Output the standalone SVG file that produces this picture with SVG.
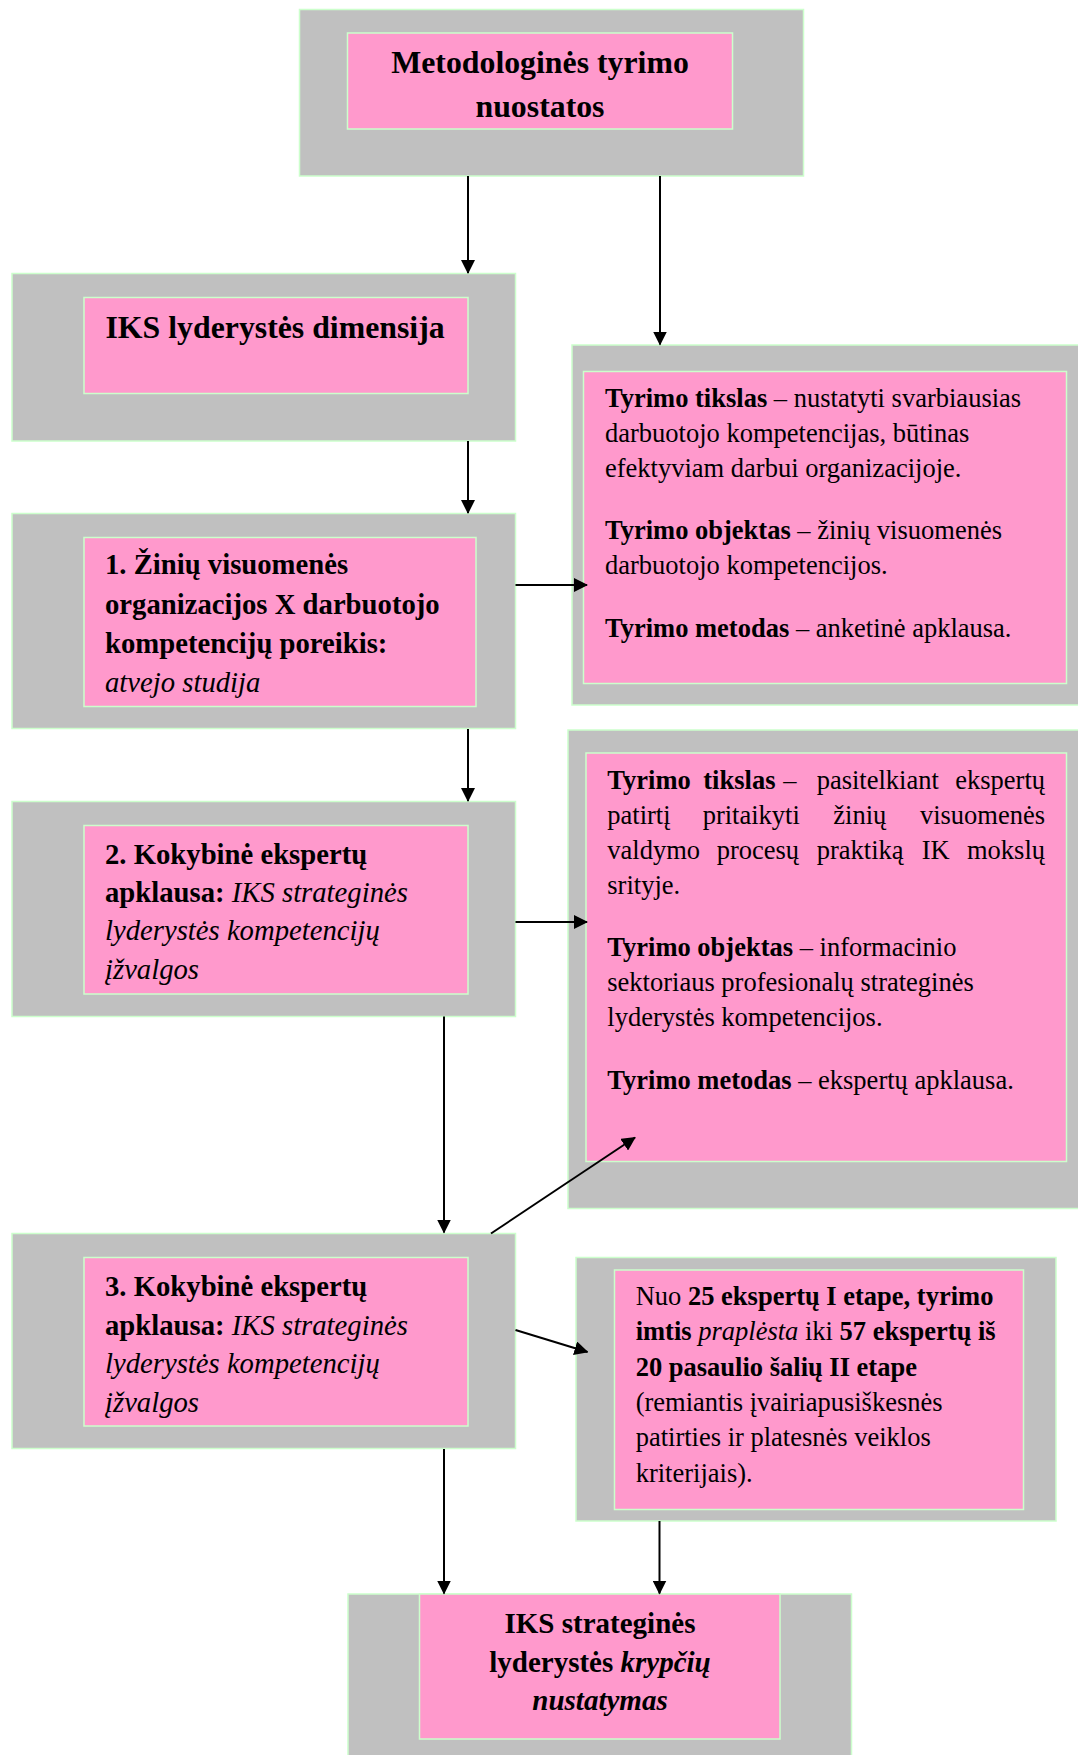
<svg xmlns="http://www.w3.org/2000/svg" width="1078" height="1755" viewBox="0 0 1078 1755">
<defs>
<style>
.g{fill:#C0C0C0;stroke:#CCFFCC;stroke-width:1.5}
.p{fill:#FF99CC;stroke:#CCFFCC;stroke-width:1.5}
text{font-family:"Liberation Serif","Times New Roman",serif;fill:#000}
.t{font-size:31.8px;font-weight:bold}
.m{font-size:28.7px}
.b{font-size:26.5px}
.f{font-size:29px;font-weight:bold}
.bo{font-weight:bold}
.it{font-style:italic}
.c{stroke:#000;stroke-width:2;fill:none;marker-end:url(#ah)}
</style>
<marker id="ah" markerUnits="userSpaceOnUse" markerWidth="14" markerHeight="14" refX="13" refY="7" orient="auto">
<path d="M0,0 L14,7 L0,14 z" fill="#000"/>
</marker>
</defs>
<rect width="1078" height="1755" fill="#fff"/>

<g id="n-top">
<rect class="g" x="299.5" y="9.5" width="504" height="166.5"/>
<rect class="p" x="347.5" y="33" width="385" height="96"/>
<text class="t" text-anchor="middle"><tspan x="540" y="73">Metodologinės tyrimo</tspan><tspan x="540" y="116.5">nuostatos</tspan></text>
</g>

<g id="n-dim">
<rect class="g" x="12" y="273.5" width="503.5" height="167.5"/>
<rect class="p" x="84" y="297.5" width="384" height="96"/>
<text class="t" x="105.5" y="338">IKS lyderystės dimensija</text>
</g>

<g id="n-1">
<rect class="g" x="12" y="513.5" width="503.5" height="215"/>
<rect class="p" x="84" y="537.5" width="392" height="169"/>
<text class="m"><tspan class="bo" x="105" y="574">1. Žinių visuomenės</tspan><tspan class="bo" x="105" y="613.5">organizacijos X darbuotojo</tspan><tspan class="bo" x="105" y="653">kompetencijų poreikis:</tspan><tspan class="it" x="105" y="691.5">atvejo studija</tspan></text>
</g>

<g id="n-2">
<rect class="g" x="12" y="801.5" width="503.5" height="215"/>
<rect class="p" x="84" y="825.5" width="384" height="168.5"/>
<text class="m"><tspan class="bo" x="105" y="864">2. Kokybinė ekspertų</tspan><tspan x="105" y="902"><tspan class="bo">apklausa:</tspan><tspan class="it"> IKS strateginės</tspan></tspan><tspan class="it" x="105" y="940">lyderystės kompetencijų</tspan><tspan class="it" x="105" y="978.5">įžvalgos</tspan></text>
</g>

<g id="n-3">
<rect class="g" x="12" y="1233.5" width="503.5" height="215"/>
<rect class="p" x="84" y="1257.5" width="384" height="168.5"/>
<text class="m"><tspan class="bo" x="105" y="1296">3. Kokybinė ekspertų</tspan><tspan x="105" y="1334.5"><tspan class="bo">apklausa:</tspan><tspan class="it"> IKS strateginės</tspan></tspan><tspan class="it" x="105" y="1373">lyderystės kompetencijų</tspan><tspan class="it" x="105" y="1411.5">įžvalgos</tspan></text>
</g>

<g id="n-r1">
<rect class="g" x="572" y="345" width="515" height="360"/>
<rect class="p" x="583.5" y="371.5" width="483" height="312"/>
<text class="b"><tspan x="605" y="407"><tspan class="bo">Tyrimo tikslas</tspan> – nustatyti svarbiausias</tspan><tspan x="605" y="442">darbuotojo kompetencijas, būtinas</tspan><tspan x="605" y="477">efektyviam darbui organizacijoje.</tspan><tspan x="605" y="538.5"><tspan class="bo">Tyrimo objektas</tspan> – žinių visuomenės</tspan><tspan x="605" y="573.5">darbuotojo kompetencijos.</tspan><tspan x="605" y="636.5"><tspan class="bo">Tyrimo metodas</tspan> – anketinė apklausa.</tspan></text>
</g>

<g id="n-r2">
<rect class="g" x="568" y="730" width="519" height="478.5"/>
<rect class="p" x="586" y="753" width="480.5" height="408.5"/>
<text class="b"><tspan class="bo" x="607.3" y="789">Tyrimo</tspan><tspan class="bo" x="703.3" y="789">tikslas</tspan><tspan x="783.3" y="789">–</tspan><tspan x="816.7" y="789">pasitelkiant</tspan></text>
<text class="b" x="1045" y="789" text-anchor="end">ekspertų</text>
<text class="b"><tspan x="607.3" y="824">patirtį</tspan><tspan x="702.7" y="824">pritaikyti</tspan><tspan x="833.3" y="824">žinių</tspan></text>
<text class="b" x="1045" y="824" text-anchor="end">visuomenės</text>
<text class="b"><tspan x="607.3" y="859">valdymo</tspan><tspan x="716.7" y="859">procesų</tspan><tspan x="816.7" y="859">praktiką</tspan><tspan x="921.7" y="859">IK</tspan></text>
<text class="b" x="1045" y="859" text-anchor="end">mokslų</text>
<text class="b"><tspan x="607.3" y="894">srityje.</tspan><tspan x="607.3" y="956"><tspan class="bo">Tyrimo objektas</tspan> – informacinio</tspan><tspan x="607.3" y="991">sektoriaus profesionalų strateginės</tspan><tspan x="607.3" y="1026">lyderystės kompetencijos.</tspan><tspan x="607.3" y="1088.5"><tspan class="bo">Tyrimo metodas</tspan> – ekspertų apklausa.</tspan></text>
</g>

<g id="n-r3">
<rect class="g" x="576" y="1257.5" width="480" height="263.5"/>
<rect class="p" x="614.5" y="1270" width="409" height="239.5"/>
<text class="b"><tspan x="635.7" y="1304.5">Nuo <tspan class="bo">25 ekspertų I etape, tyrimo</tspan></tspan><tspan x="635.7" y="1340"><tspan class="bo">imtis</tspan> <tspan class="it">praplėsta</tspan> iki <tspan class="bo">57 ekspertų iš</tspan></tspan><tspan class="bo" x="635.7" y="1375.5">20 pasaulio šalių II etape</tspan><tspan x="635.7" y="1411">(remiantis įvairiapusiškesnės</tspan><tspan x="635.7" y="1446">patirties ir platesnės veiklos</tspan><tspan x="635.7" y="1481.5">kriterijais).</tspan></text>
</g>

<g id="n-final">
<rect class="g" x="348" y="1594" width="503.5" height="175"/>
<rect class="p" x="419.5" y="1594" width="360.5" height="145"/>
<text class="f" text-anchor="middle"><tspan x="600" y="1633">IKS strateginės</tspan><tspan x="600" y="1672">lyderystės <tspan class="it">krypčių</tspan></tspan><tspan class="it" x="600" y="1710">nustatymas</tspan></text>
</g>

<g id="connectors">
<path class="c" d="M468,176 V273"/>
<path class="c" d="M660,176 V344.5"/>
<path class="c" d="M468,441 V513"/>
<path class="c" d="M515.5,585 H587"/>
<path class="c" d="M468,729 V801"/>
<path class="c" d="M515.5,922 H587"/>
<path class="c" d="M444,1016.5 V1232.5"/>
<path class="c" d="M491,1233.5 L635,1137.5"/>
<path class="c" d="M515.5,1330 L587.5,1352"/>
<path class="c" d="M444,1449 V1593.5"/>
<path class="c" d="M659.5,1521 V1593.5"/>
</g>
</svg>
